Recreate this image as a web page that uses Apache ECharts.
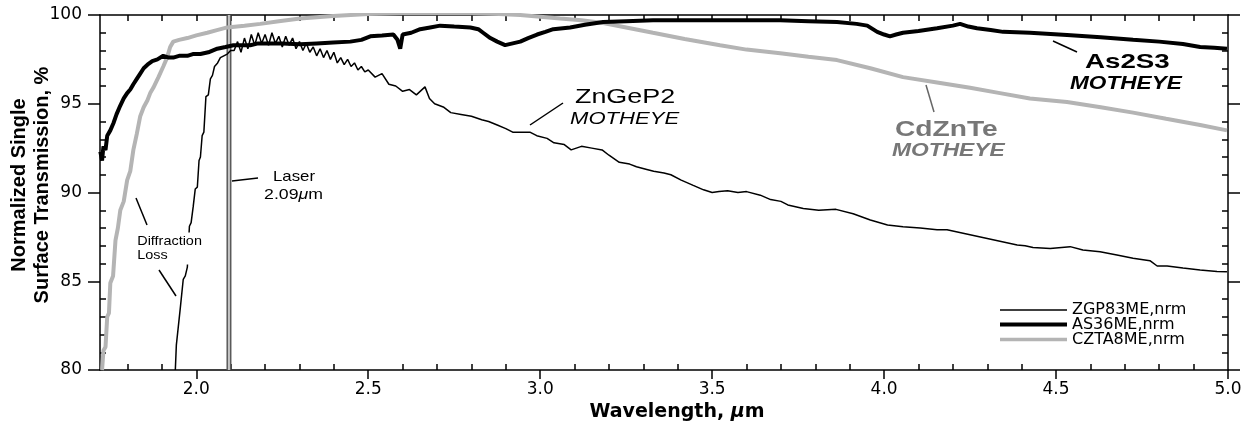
<!DOCTYPE html>
<html><head><meta charset="utf-8">
<script src="https://cdn.jsdelivr.net/npm/echarts@6/dist/echarts.min.js"></script>
<style>html,body{margin:0;padding:0;background:#fff}#c{width:1255px;height:428px}</style>
</head><body><div id="c"></div>
<script>
// ---------- data ----------
const zgpWl = [1.939,1.942,1.947,1.953,1.958,1.962,1.968,1.974,1.980,1.985,1.991,1.997,2.003,2.008,2.012,2.017,2.022,2.028,2.035,2.041,2.047,2.053,2.062,2.070,2.080,2.090,2.100,
2.11,2.12,2.13,2.14,2.15,2.16,2.17,2.18,2.19,2.20,2.21,2.22,2.23,2.24,2.25,2.26,2.27,2.28,2.29,2.30,2.31,2.32,2.33,2.34,2.35,2.36,2.37,2.38,2.39,2.40,2.41,2.42,2.43,2.44,2.45,2.46,2.47,2.48,2.49,2.50,
2.52,2.54,2.56,2.58,2.60,2.62,2.64,2.665,2.678,2.693,2.72,2.74,2.77,2.80,2.83,2.85,2.875,2.90,2.92,2.95,2.97,2.99,3.02,3.04,3.07,3.09,3.12,3.15,3.18,3.20,3.23,3.26,3.28,3.31,3.33,3.36,3.38,3.41,3.445,3.475,3.50,3.52,3.545,3.575,3.60,3.64,3.67,3.70,3.72,3.765,3.81,3.86,3.91,3.96,4.01,4.055,4.105,4.154,4.183,4.387,4.41,4.433,4.483,4.541,4.578,4.628,4.677,4.724,4.773,4.794,4.823,4.869,4.919,4.968,4.997];
const zgpT = [80.0,81.4,81.5,83.4,83.5,85.1,85.3,85.8,88.1,88.3,89.2,90.2,90.3,91.8,92.0,93.2,93.4,95.4,95.5,96.4,96.6,97.1,97.3,97.6,97.7,97.8,98.0,
98.0,98.5,97.9,98.7,98.1,98.9,98.3,99.0,98.4,98.9,98.3,99.0,98.4,98.8,98.2,98.8,98.3,98.7,98.1,98.5,98.0,98.4,97.9,98.2,97.7,98.1,97.6,98.0,97.5,97.9,97.3,97.6,97.2,97.5,97.1,97.3,96.9,97.1,96.8,96.9,
96.5,96.7,96.1,96.0,95.7,95.8,95.5,95.95,95.3,95.0,94.8,94.5,94.4,94.3,94.1,94.0,93.8,93.6,93.4,93.4,93.4,93.2,93.05,92.8,92.7,92.4,92.6,92.5,92.4,92.1,91.7,91.6,91.45,91.3,91.2,91.1,91.0,90.7,90.4,90.15,90.0,90.05,90.1,90.0,90.05,89.85,89.6,89.5,89.3,89.1,89.0,89.05,88.8,88.45,88.17,88.07,88.0,87.9,87.9,87.04,87.0,86.9,86.85,86.95,86.76,86.66,86.48,86.3,86.16,85.86,85.86,85.74,85.63,85.55,85.53];

const asWl = [1.721,1.726,1.730,1.736,1.741,1.750,1.759,1.768,1.779,1.789,1.799,1.808,1.817,1.827,1.837,1.847,1.858,1.872,1.887,1.904,1.920,1.933,1.950,1.974,1.990,2.012,2.035,2.061,2.085,2.108,2.130,2.157,2.180,2.206,2.250,2.302,2.350,2.398,2.448,2.480,2.506,2.540,2.573,2.585,2.593,2.600,2.625,2.651,2.680,2.709,2.750,2.797,2.820,2.834,2.855,2.875,2.898,2.920,2.942,2.965,2.991,3.015,3.038,3.087,3.130,3.183,3.250,3.328,3.420,3.523,3.600,3.698,3.780,3.863,3.920,3.951,3.980,4.000,4.017,4.035,4.055,4.100,4.154,4.200,4.221,4.245,4.270,4.310,4.346,4.424,4.532,4.630,4.724,4.800,4.869,4.919,4.960,4.997];
const asT = [92.3,91.8,92.6,92.4,93.2,93.5,93.9,94.4,94.9,95.3,95.6,95.8,96.1,96.4,96.7,97.0,97.2,97.4,97.5,97.7,97.6,97.6,97.7,97.7,97.8,97.8,97.9,98.1,98.2,98.3,98.3,98.3,98.4,98.4,98.4,98.35,98.4,98.45,98.5,98.6,98.8,98.85,98.9,98.6,98.1,98.9,99.0,99.2,99.3,99.4,99.35,99.3,99.2,99.0,98.7,98.5,98.3,98.4,98.5,98.7,98.9,99.05,99.2,99.3,99.45,99.6,99.65,99.7,99.7,99.7,99.7,99.7,99.65,99.6,99.5,99.4,99.05,98.9,98.8,98.9,99.0,99.1,99.25,99.4,99.5,99.35,99.25,99.15,99.05,99.0,98.87,98.75,98.6,98.5,98.37,98.2,98.15,98.1];

const czWl = [1.726,1.730,1.736,1.741,1.746,1.750,1.758,1.765,1.772,1.779,1.789,1.799,1.808,1.817,1.827,1.837,1.847,1.858,1.866,1.875,1.890,1.904,1.915,1.924,1.933,1.950,1.974,2.000,2.032,2.060,2.090,2.140,2.186,2.240,2.302,2.398,2.500,2.593,2.700,2.797,2.880,2.942,3.000,3.058,3.120,3.183,3.250,3.328,3.420,3.523,3.600,3.698,3.780,3.863,3.960,4.055,4.154,4.250,4.337,4.424,4.532,4.630,4.724,4.820,4.919,4.997];
const czT = [80.0,81.1,81.3,83.0,83.2,84.9,85.3,87.3,88.0,89.0,89.5,90.7,91.2,92.4,93.3,94.3,94.8,95.2,95.6,95.9,96.5,97.1,97.6,98.2,98.5,98.6,98.7,98.85,99.0,99.15,99.3,99.4,99.5,99.65,99.8,99.95,100.05,100.1,100.1,100.1,100.05,100.0,99.9,99.8,99.7,99.55,99.3,99.0,98.65,98.3,98.05,97.85,97.65,97.46,97.0,96.5,96.2,95.9,95.6,95.3,95.1,94.8,94.5,94.15,93.8,93.5];

const laserWl = [2.095,2.095];
const laserT = [80,100];

const seriesNames = ['ZGP83ME,nrm','AS36ME,nrm','CZTA8ME,nrm'];
const xMajorTicks = [2.0,2.5,3.0,3.5,4.0,4.5,5.0];
const xMinorTicks = [1.8,1.9,2.1,2.2,2.3,2.4,2.6,2.7,2.8,2.9,3.1,3.2,3.3,3.4,3.6,3.7,3.8,3.9,4.1,4.2,4.3,4.4,4.6,4.7,4.8,4.9];
const xTopTicks = [1.8,1.9,2.0,2.1,2.2,2.3,2.4,2.5,2.6,2.7,2.8,2.9,3.0,3.1,3.2,3.3,3.4,3.5,3.6,3.7,3.8,3.9,4.0,4.1,4.2,4.3,4.4,4.5,4.6,4.7,4.8,4.9];
const yMajorTicks = [80,85,90,95,100];
const yMinorTicks = [81,82,83,84,86,87,88,89,91,92,93,94,96,97,98,99];

// ---------- chart ----------
function pairs(a,b){return a.map((v,i)=>[v,b[i]]);}
const BLACK = '#000', GRAY = '#b4b4b4';
const tickFont = {fontFamily:'DejaVu Sans', fontSize:17, color:'#000'};
const axisLine = {show:true, lineStyle:{color:BLACK, width:1.5}};
const noLine = {show:false};

function xAx(extra){return Object.assign({type:'value', min:1.72, max:5.0, gridIndex:0, splitLine:{show:false}, axisLabel:{show:false}}, extra);}
function yAx(extra){return Object.assign({type:'value', min:80, max:100, gridIndex:0, splitLine:{show:false}, axisLabel:{show:false}}, extra);}

const chart = echarts.init(document.getElementById('c'), null, {renderer:'canvas'});
const legendText = {fontFamily:'DejaVu Sans', fontSize:16, color:'#000'};
function leg(name, top, h){return {data:[name], left:1000, top:top, orient:'horizontal', itemWidth:67, itemHeight:h, icon:'rect', padding:0, itemGap:0, selectedMode:false, textStyle:legendText, itemStyle:{borderWidth:0}};}

function txt(x, y, text, o){
  return {type:'text', x:x, y:y, z:100, scaleX:o.sx||1, silent:true,
    style:Object.assign({text:text, fontFamily:'Liberation Sans', fontSize:o.size, fontWeight:o.weight||'normal', fontStyle:o.style||'normal', fill:o.color||'#000', align:o.align||'left', verticalAlign:o.va||'middle', textAlign:o.align||'left', textVerticalAlign:o.va||'middle'}, o.extra||{})};
}
function seg(x1,y1,x2,y2,color){return {type:'line', z:100, silent:true, shape:{x1:x1,y1:y1,x2:x2,y2:y2}, style:{stroke:color||'#000', lineWidth:1.5}};}

const option = {
  animation:false,
  backgroundColor:'#fff',
  grid:{left:100, right:27, top:15, bottom:58, containLabel:false, outerBoundsMode:'none'},
  xAxis:[
    xAx({position:'bottom', axisLine:axisLine,
      axisTick:{show:true, inside:false, length:9, customValues:xMajorTicks, lineStyle:{color:BLACK, width:1.5}},
      axisLabel:{show:true, customValues:xMajorTicks, margin:11, formatter:v=>Number(v).toFixed(1), ...tickFont},
      name:'Wavelength, {i|μ}m', nameLocation:'middle', nameGap:33,
      nameTextStyle:{fontFamily:'DejaVu Sans', fontWeight:'bold', fontSize:19, color:'#000', padding:[0,0,0,26],
        rich:{i:{fontFamily:'DejaVu Sans', fontWeight:'bold', fontStyle:'italic', fontSize:19, color:'#000'}}}}),
    xAx({position:'bottom', axisLine:noLine,
      axisTick:{show:true, inside:true, length:6, customValues:xMinorTicks, lineStyle:{color:BLACK, width:1.5}}}),
    xAx({position:'top', axisLine:axisLine,
      axisTick:{show:true, inside:true, length:6, customValues:xTopTicks, lineStyle:{color:BLACK, width:1.5}}})
  ],
  yAxis:[
    yAx({position:'left', axisLine:axisLine,
      axisTick:{show:true, inside:false, length:12, customValues:yMajorTicks, lineStyle:{color:BLACK, width:1.5}},
      axisLabel:{show:true, customValues:yMajorTicks, margin:18, ...tickFont},
      name:'Normalized Single\nSurface Transmission, %', nameLocation:'middle', nameRotate:90, nameGap:46, nameMoveOverlap:false,
      nameTextStyle:{fontFamily:'Liberation Sans', fontWeight:'bold', fontSize:20, lineHeight:23, color:'#000', padding:[0,0,0,15]}}),
    yAx({position:'left', axisLine:noLine,
      axisTick:{show:true, inside:true, length:6, customValues:yMinorTicks, lineStyle:{color:BLACK, width:1.5}}}),
    yAx({position:'right', axisLine:axisLine,
      axisTick:{show:true, inside:false, length:12, customValues:yMajorTicks, lineStyle:{color:BLACK, width:1.5}}}),
    yAx({position:'right', axisLine:noLine,
      axisTick:{show:true, inside:true, length:6, customValues:yMinorTicks, lineStyle:{color:BLACK, width:1.5}}})
  ],
  legend:[ leg(seriesNames[0], 302, 1.5), leg(seriesNames[1], 316.5, 4), leg(seriesNames[2], 331.5, 3.5) ],
  series:[
    {name:'laser-outer', type:'line', data:pairs(laserWl, laserT), symbol:'none', silent:true, color:'#5a5a5a', lineStyle:{color:'#5a5a5a', width:5}, z:1},
    {name:'laser-inner', type:'line', data:pairs(laserWl, laserT), symbol:'none', silent:true, color:'#c4c4c4', lineStyle:{color:'#c4c4c4', width:2}, z:1},
    {name:seriesNames[2], type:'line', data:pairs(czWl, czT), symbol:'none', color:GRAY, itemStyle:{color:GRAY}, lineStyle:{color:GRAY, width:4}, z:2},
    {name:seriesNames[1], type:'line', data:pairs(asWl, asT), symbol:'none', color:BLACK, itemStyle:{color:BLACK}, lineStyle:{color:BLACK, width:4}, z:3},
    {name:seriesNames[0], type:'line', data:pairs(zgpWl, zgpT), symbol:'none', color:BLACK, itemStyle:{color:BLACK}, lineStyle:{color:BLACK, width:1.5}, z:4}
  ],
  graphic:{elements:[
    txt(575, 97.5, 'ZnGeP2', {size:21, sx:1.28}),
    txt(570, 119, 'MOTHEYE', {size:17, style:'italic', sx:1.3}),
    seg(530,125,563,103),
    txt(1085, 62.5, 'As2S3', {size:21, weight:'bold', sx:1.32}),
    txt(1070, 83.5, 'MOTHEYE', {size:19, weight:'bold', style:'italic', sx:1.19}),
    seg(1053,41,1077,52),
    txt(895, 130, 'CdZnTe', {size:22, weight:'bold', color:'#777', sx:1.28}),
    txt(892, 150.5, 'MOTHEYE', {size:19, weight:'bold', style:'italic', color:'#777', sx:1.2}),
    seg(926,85,934,112,'#666'),
    txt(294, 176.5, 'Laser', {size:15, sx:1.12, align:'center'}),
    txt(293.5, 195, '2.09{i|μ}m', {size:15, sx:1.18, align:'center', extra:{rich:{i:{fontFamily:'Liberation Sans', fontSize:15, fontStyle:'italic', fill:'#000'}}}}),
    seg(232,181,258,178),
    txt(135, 232.5, 'Diffraction\nLoss', {size:13, sx:1.11, va:'top', extra:{lineHeight:14, backgroundColor:'#fff', padding:[2,2,2,2]}}),
    seg(136,198,147,225),
    seg(159,270,176,296)
  ]}
};
chart.setOption(option);
</script>
</body></html>
